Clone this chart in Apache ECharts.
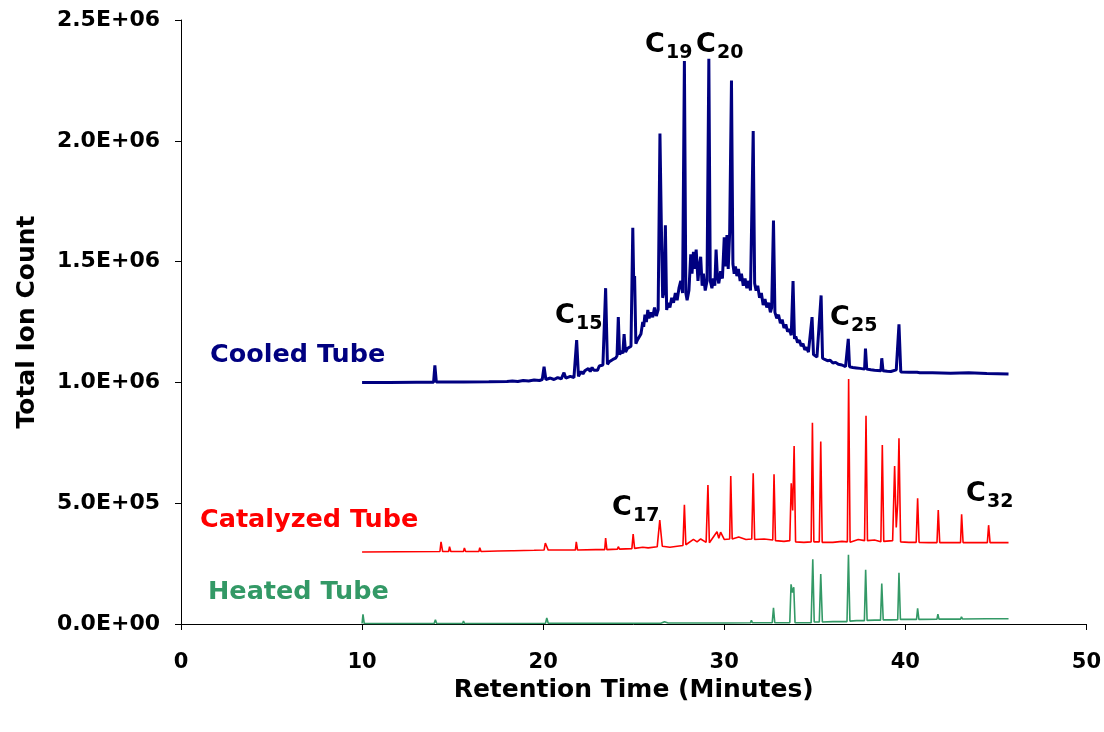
<!DOCTYPE html>
<html>
<head>
<meta charset="utf-8">
<script src="https://cdn.jsdelivr.net/npm/echarts@6/dist/echarts.min.js"></script>
<style>
html,body{margin:0;padding:0;background:#fff;}
#chart{width:1104px;height:732px;}
</style>
</head>
<body>
<div id="chart"></div>
<script>
// ---- data ----
const xTickValues = [0, 10, 20, 30, 40, 50];
const yTickLabels = ['0.0E+00', '5.0E+05', '1.0E+06', '1.5E+06', '2.0E+06', '2.5E+06'];
const seriesNames = ['Cooled Tube', 'Catalyzed Tube', 'Heated Tube'];

const cooledTube = [
  [10.0,1000000],[11.5,1000000],[13.0,1001000],[13.95,1001000],[14.02,1070000],[14.1,1002000],
  [15.4,1002000],[15.5,1008000],[15.6,1002000],[17.0,1003000],[18.0,1004000],[18.3,1006000],
  [18.6,1004000],[18.9,1008000],[19.2,1006000],[19.5,1010000],[19.8,1008000],[19.95,1012000],
  [20.05,1065000],[20.15,1012000],[20.4,1018000],[20.6,1012000],[20.8,1020000],[21.0,1015000],
  [21.15,1040000],[21.25,1018000],[21.5,1025000],[21.7,1020000],[21.85,1175000],[21.95,1025000],
  [22.0,1030000],[22.1,1045000],[22.2,1035000],[22.3,1048000],[22.4,1040000],[22.5,1058000],
  [22.6,1045000],[22.7,1062000],[22.8,1050000],[22.9,1055000],[23.0,1050000],[23.1,1068000],
  [23.2,1060000],[23.3,1072000],[23.45,1390000],[23.55,1075000],[23.65,1085000],[23.75,1080000],
  [23.85,1095000],[24.0,1100000],[24.08,1110000],[24.15,1270000],[24.22,1115000],[24.32,1130000],
  [24.4,1120000],[24.47,1200000],[24.55,1125000],[24.65,1140000],[24.75,1135000],[24.85,1150000],
  [24.95,1640000],[25.0,1420000],[25.05,1440000],[25.12,1160000],[25.2,1175000],[25.3,1170000],
  [25.4,1200000],[25.5,1250000],[25.55,1230000],[25.62,1280000],[25.7,1250000],[25.78,1300000],
  [25.85,1265000],[25.95,1290000],[26.05,1270000],[26.15,1310000],[26.25,1275000],[26.35,1300000],
  [26.45,2030000],[26.52,1680000],[26.6,1350000],[26.68,1380000],[26.75,1650000],[26.82,1300000],
  [26.9,1330000],[27.0,1310000],[27.1,1350000],[27.2,1330000],[27.3,1370000],[27.4,1340000],
  [27.5,1390000],[27.6,1420000],[27.7,1370000],[27.8,2330000],[27.88,1370000],[27.95,1340000],
  [28.05,1380000],[28.15,1530000],[28.22,1450000],[28.3,1540000],[28.38,1470000],[28.45,1550000],
  [28.55,1420000],[28.62,1480000],[28.7,1520000],[28.78,1400000],[28.85,1450000],[28.95,1380000],
  [29.05,1420000],[29.15,2340000],[29.23,1420000],[29.32,1390000],[29.4,1430000],[29.48,1400000],
  [29.55,1550000],[29.62,1440000],[29.7,1410000],[29.8,1460000],[29.9,1430000],[30.0,1600000],
  [30.07,1480000],[30.15,1610000],[30.22,1470000],[30.3,1620000],[30.4,2250000],[30.48,1490000],
  [30.55,1450000],[30.62,1480000],[30.7,1440000],[30.78,1470000],[30.88,1420000],[30.95,1450000],
  [31.05,1400000],[31.15,1430000],[31.25,1390000],[31.35,1420000],[31.45,1380000],[31.6,2040000],
  [31.68,1410000],[31.76,1380000],[31.85,1400000],[31.95,1350000],[32.05,1370000],[32.15,1320000],
  [32.25,1345000],[32.35,1310000],[32.45,1330000],[32.55,1290000],[32.62,1310000],[32.72,1670000],
  [32.8,1290000],[32.9,1265000],[33.0,1280000],[33.1,1245000],[33.2,1260000],[33.3,1225000],
  [33.4,1240000],[33.5,1210000],[33.6,1220000],[33.7,1195000],[33.8,1420000],[33.88,1180000],
  [33.95,1190000],[34.05,1165000],[34.15,1175000],[34.25,1150000],[34.35,1160000],[34.45,1135000],
  [34.55,1145000],[34.65,1125000],[34.75,1130000],[34.85,1270000],[34.93,1115000],[35.02,1120000],
  [35.12,1105000],[35.22,1110000],[35.35,1360000],[35.43,1100000],[35.55,1095000],[35.7,1090000],
  [35.85,1092000],[36.0,1080000],[36.15,1083000],[36.3,1075000],[36.5,1072000],[36.7,1065000],
  [36.85,1180000],[36.92,1065000],[37.1,1062000],[37.3,1060000],[37.5,1058000],[37.75,1055000],
  [37.8,1140000],[37.87,1055000],[38.1,1052000],[38.3,1050000],[38.65,1048000],[38.7,1100000],
  [38.77,1048000],[39.0,1046000],[39.2,1045000],[39.5,1052000],[39.65,1240000],[39.75,1043000],
  [40.2,1042000],[40.65,1042000],[40.7,1050000],[40.8,1040000],[41.5,1040000],[42.5,1038000],
  [43.5,1040000],[44.5,1037000],[45.7,1035000]
];

const catalyzedTube = [
  [10.0,298000],[12.0,299000],[14.3,300000],[14.36,340000],[14.45,300000],[14.78,300000],
  [14.83,320000],[14.9,300000],[15.6,300000],[15.65,315000],[15.72,300000],[16.45,300000],
  [16.5,316000],[16.57,300000],[17.5,302000],[18.25,303000],[18.3,310000],[18.37,303000],
  [19.5,305000],[20.05,306000],[20.12,335000],[20.2,333000],[20.28,306000],[21.15,306000],
  [21.2,314000],[21.25,306000],[21.78,306000],[21.83,340000],[21.9,306000],[22.9,308000],
  [22.95,314000],[23.0,308000],[23.4,308000],[23.45,356000],[23.52,308000],[24.1,310000],
  [24.15,320000],[24.22,310000],[24.9,312000],[24.97,372000],[25.05,313000],[25.5,318000],
  [25.8,315000],[26.3,320000],[26.44,430000],[26.5,382000],[26.58,322000],[27.0,318000],
  [27.4,322000],[27.72,325000],[27.8,493000],[27.88,328000],[28.3,350000],[28.5,340000],
  [28.7,352000],[29.0,338000],[29.1,575000],[29.18,336000],[29.6,382000],[29.7,355000],
  [29.8,380000],[30.0,350000],[30.3,352000],[30.36,613000],[30.44,352000],[30.8,360000],
  [31.2,350000],[31.52,352000],[31.6,624000],[31.68,350000],[32.2,352000],[32.68,348000],
  [32.75,620000],[32.83,345000],[33.3,342000],[33.62,345000],[33.7,582000],[33.78,470000],
  [33.86,737000],[33.94,340000],[34.4,338000],[34.8,340000],[34.87,833000],[34.95,340000],
  [35.25,340000],[35.33,755000],[35.41,338000],[36.0,338000],[36.5,342000],[36.8,340000],
  [36.87,1014000],[36.95,338000],[37.4,350000],[37.75,345000],[37.83,862000],[37.91,345000],
  [38.3,348000],[38.65,340000],[38.73,741000],[38.81,342000],[39.3,345000],[39.41,654000],
  [39.5,400000],[39.58,500000],[39.65,769000],[39.74,340000],[40.2,338000],[40.6,338000],
  [40.68,520000],[40.76,338000],[41.3,337000],[41.75,337000],[41.82,472000],[41.9,337000],
  [42.6,337000],[43.05,337000],[43.11,454000],[43.19,337000],[44.0,337000],[44.53,337000],
  [44.6,409000],[44.68,337000],[45.7,337000]
];

const heatedTube = [
  [10.0,2000],[10.05,40000],[10.12,2000],[13.98,2000],[14.05,18000],[14.12,2000],
  [15.55,2000],[15.6,12000],[15.66,2000],[20.13,3000],[20.2,25000],[20.28,3000],
  [23.35,3000],[23.4,10000],[23.46,3000],[24.95,3000],[25.0,9000],[25.06,3000],
  [26.5,3000],[26.7,9000],[26.9,4000],[29.9,4000],[29.96,12000],[30.03,4000],
  [31.45,5000],[31.5,15000],[31.56,5000],[32.65,5000],[32.72,67000],[32.79,5000],
  [33.62,5000],[33.69,164000],[33.77,130000],[33.84,152000],[33.91,5000],[34.8,5000],
  [34.89,268000],[34.97,8000],[35.25,8000],[35.33,207000],[35.42,8000],[36.0,10000],
  [36.78,10000],[36.86,287000],[36.94,12000],[37.3,14000],[37.74,14000],[37.81,224000],
  [37.89,15000],[38.3,16000],[38.63,16000],[38.7,168000],[38.78,17000],[39.2,17000],
  [39.58,18000],[39.65,212000],[39.73,19000],[40.2,19000],[40.62,19000],[40.68,65000],
  [40.75,19000],[41.75,20000],[41.8,41000],[41.86,20000],[43.05,20000],[43.1,30000],
  [43.16,21000],[44.5,22000],[45.7,22000]
];

// peak annotations: carbon number label
const peakLabels = ['15', '19', '20', '25', '17', '32'];

// ---- chart ----
const FONT = '"DejaVu Sans", "Liberation Sans", Arial, sans-serif';
const COLORS = ['#000080', '#FF0000', '#339966'];

const chart = echarts.init(document.getElementById('chart'), null, {renderer: 'canvas'});

function cLabel(num, left, cy) {
  return {
    type: 'group',
    children: [
      {type: 'text', x: left, y: cy, style: {text: 'C', font: 'bold 27px ' + FONT, fill: '#000', verticalAlign: 'middle', align: 'left'}},
      {type: 'text', x: left + 21, y: cy + 8, style: {text: num, font: 'bold 19px ' + FONT, fill: '#000', verticalAlign: 'middle', align: 'left'}}
    ]
  };
}
const labelPos = [[555, 316], [645, 45], [696, 45], [830, 318], [612, 508], [966, 494]];

function seriesText(txt, left, cy, color) {
  return {type: 'text', x: left, y: cy, style: {text: txt, font: 'bold 25.5px ' + FONT, fill: color, verticalAlign: 'middle', align: 'left'}};
}

const option = {
  backgroundColor: '#ffffff',
  animation: false,
  grid: {left: 181, right: 17, top: 20, bottom: 108, containLabel: false},
  xAxis: {
    type: 'value', min: 0, max: 50, interval: 10,
    name: 'Retention Time (Minutes)', nameLocation: 'middle', nameGap: 52,
    nameTextStyle: {fontFamily: FONT, fontWeight: 'bold', fontSize: 25, color: '#000'},
    axisLine: {show: true, onZero: false, lineStyle: {color: '#000', width: 1}},
    axisTick: {show: true, inside: false, length: 6, lineStyle: {color: '#000'}},
    axisLabel: {margin: 28, fontFamily: FONT, fontWeight: 'bold', fontSize: 21, color: '#000',
      formatter: v => String(xTickValues[xTickValues.indexOf(v)])},
    splitLine: {show: false}
  },
  yAxis: {
    type: 'value', min: 0, max: 2500000, interval: 500000,
    name: 'Total Ion Count', nameLocation: 'middle', nameGap: 141,
    nameTextStyle: {fontFamily: FONT, fontWeight: 'bold', fontSize: 25, color: '#000'},
    axisLine: {show: true, lineStyle: {color: '#000', width: 1}},
    axisTick: {show: true, inside: false, length: 6, lineStyle: {color: '#000'}},
    axisLabel: {margin: 21, fontFamily: FONT, fontWeight: 'bold', fontSize: 22, color: '#000',
      formatter: v => yTickLabels[Math.round(v / 500000)]},
    splitLine: {show: false}
  },
  series: [
    {name: seriesNames[0], type: 'line', data: cooledTube, showSymbol: false, symbol: 'none',
     lineStyle: {color: COLORS[0], width: 3}, z: 3},
    {name: seriesNames[1], type: 'line', data: catalyzedTube, showSymbol: false, symbol: 'none',
     lineStyle: {color: COLORS[1], width: 1.6}, z: 2},
    {name: seriesNames[2], type: 'line', data: heatedTube, showSymbol: false, symbol: 'none',
     lineStyle: {color: COLORS[2], width: 1.6}, z: 1}
  ],
  graphic: [
    seriesText(seriesNames[0], 210, 355, COLORS[0]),
    seriesText(seriesNames[1], 200, 520, COLORS[1]),
    seriesText(seriesNames[2], 208, 592, COLORS[2])
  ].concat(peakLabels.map((n, i) => cLabel(n, labelPos[i][0], labelPos[i][1])))
};
chart.setOption(option);
</script>
</body>
</html>
